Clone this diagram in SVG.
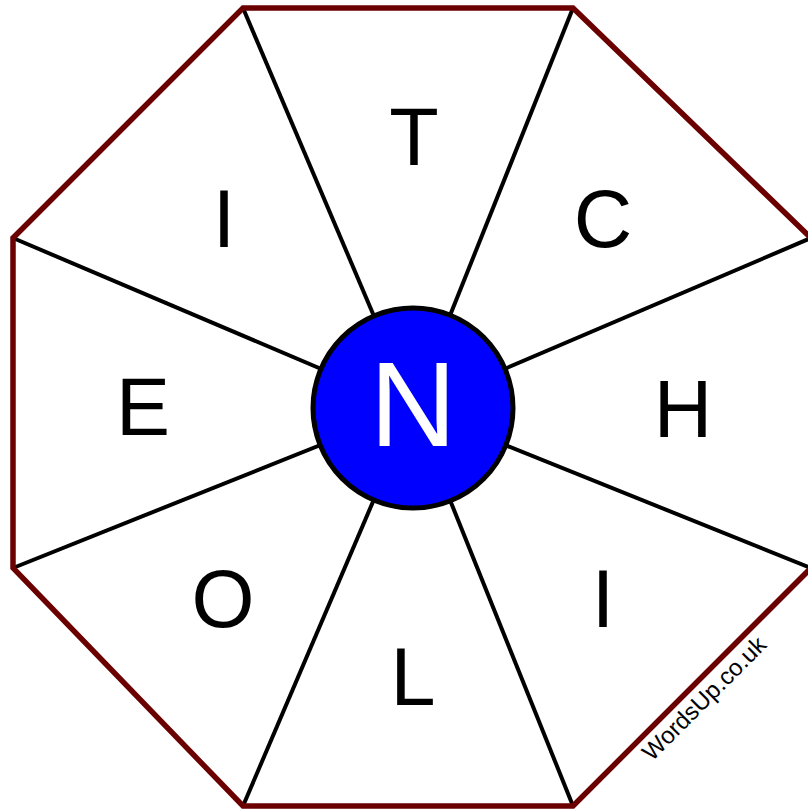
<svg xmlns="http://www.w3.org/2000/svg" width="808" height="809" viewBox="0 0 808 809">
<style>
.spoke{stroke:#000;stroke-width:4;fill:none}
.letter{font-family:"Liberation Sans",Arial,sans-serif;font-size:81px;fill:#000;text-anchor:middle}
</style>
<rect width="808" height="809" fill="#fff"/>
<g id="connectors">
<line class="spoke" x1="243" y1="8" x2="413" y2="408"/>
<line class="spoke" x1="573" y1="8" x2="413" y2="408"/>
<line class="spoke" x1="811" y1="238" x2="413" y2="408"/>
<line class="spoke" x1="811" y1="568" x2="413" y2="408"/>
<line class="spoke" x1="573" y1="806" x2="413" y2="408"/>
<line class="spoke" x1="243" y1="806" x2="413" y2="408"/>
<line class="spoke" x1="13" y1="568" x2="413" y2="408"/>
<line class="spoke" x1="13" y1="238" x2="413" y2="408"/>
</g>
<g id="octagon">
<polygon points="243,8 573,8 811,238 811,568 573,806 243,806 13,568 13,238" fill="none" stroke="#6b0000" stroke-width="5.5" stroke-linejoin="miter"/>
</g>
<g id="center">
<circle cx="413" cy="408" r="100" fill="#0000ff" stroke="#000" stroke-width="5"/>
<text x="413" y="446" font-family="Liberation Sans, Arial, sans-serif" font-size="120" fill="#fff" text-anchor="middle">N</text>
</g>
<g id="letter-t"><text class="letter" x="414" y="165">T</text></g>
<g id="letter-c"><text class="letter" x="603" y="247">C</text></g>
<g id="letter-h"><text class="letter" x="683" y="437">H</text></g>
<g id="letter-i2"><text class="letter" x="603" y="627">I</text></g>
<g id="letter-l"><text class="letter" x="413" y="705">L</text></g>
<g id="letter-o"><text class="letter" x="223" y="627">O</text></g>
<g id="letter-e"><text class="letter" x="143" y="435">E</text></g>
<g id="letter-i1"><text class="letter" x="224" y="247">I</text></g>
<g id="watermark"><text x="652" y="762" transform="rotate(-45 652 762)" font-family="Liberation Sans, Arial, sans-serif" font-size="24" fill="#000">WordsUp.co.uk</text></g>
</svg>
